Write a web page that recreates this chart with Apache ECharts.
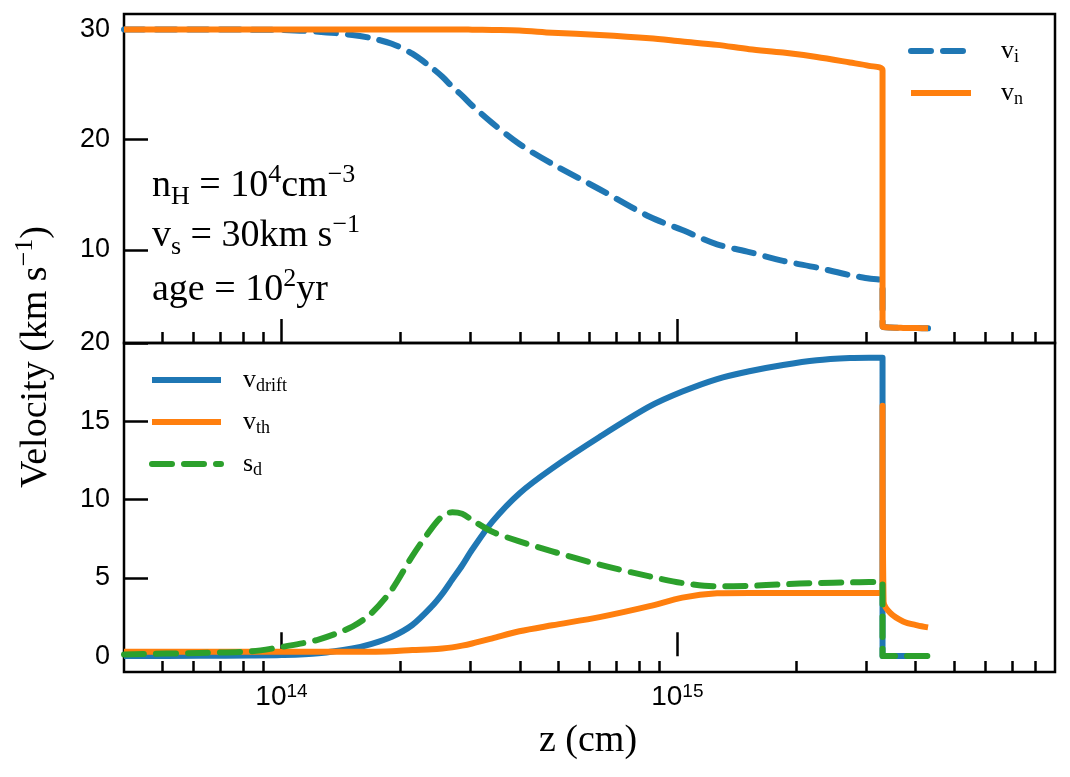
<!DOCTYPE html>
<html><head><meta charset="utf-8">
<script src="https://cdn.jsdelivr.net/npm/echarts@6/dist/echarts.min.js"></script>
<style>html,body{margin:0;padding:0;background:#fff}#c{width:1070px;height:777px}</style>
</head><body><div id="c"></div>
<script>
// shared z grid (cm); the repeated 3.3e15 marks the shock jump
const z = [4.0e13, 6.2e13, 8.4e13, 1.0e14, 1.24e14, 1.51e14, 1.69e14, 1.90e14, 2.14e14, 2.40e14,
           2.55e14, 2.70e14, 2.86e14, 3.03e14, 3.41e14, 3.99e14, 4.83e14, 6.36e14, 8.51e14, 1.03e15,
           1.26e15, 1.52e15, 1.85e15, 2.25e15, 2.73e15, 3.05e15, 3.3e15, 3.3e15, 3.32e15, 3.45e15,
           3.72e15, 4.04e15, 4.3e15];
// top panel
const vIon     = [30.0, 30.0, 29.98, 29.95, 29.8, 29.5, 29.2, 28.7, 27.8, 26.5,
                  25.7, 24.8, 24.0, 23.1, 21.5, 19.6, 17.8, 15.5, 13.0, 11.8,
                  10.5, 9.8, 9.0, 8.4, 7.7, 7.4, 7.1, 3.1, 3.0, 2.95,
                  2.92, 2.9, 2.88];
const vNeutral = [30.0, 30.0, 30.0, 30.0, 30.0, 30.0, 30.0, 30.0, 30.0, 30.0,
                  30.0, 30.0, 30.0, 29.98, 29.95, 29.9, 29.7, 29.5, 29.2, 28.9,
                  28.6, 28.2, 27.9, 27.5, 27.0, 26.7, 26.3, 3.1, 3.0, 2.95,
                  2.92, 2.9, 2.88];
// bottom panel
const vDrift = [0.02, 0.03, 0.05, 0.08, 0.2, 0.5, 0.8, 1.25, 2.0, 3.2,
                4.0, 4.9, 5.8, 6.8, 8.6, 10.4, 12.0, 14.0, 15.95, 16.9,
                17.7, 18.2, 18.6, 18.9, 19.04, 19.06, 19.06, 0.02, 0.02, 0.02,
                0.02, 0.02, 0.02];
const vTherm = [0.3, 0.3, 0.3, 0.3, 0.3, 0.3, 0.3, 0.33, 0.4, 0.45,
                0.5, 0.57, 0.68, 0.82, 1.15, 1.6, 1.98, 2.5, 3.2, 3.75,
                4.02, 4.05, 4.05, 4.05, 4.05, 4.05, 4.05, 16.0, 3.5, 2.77,
                2.23, 1.98, 1.85];
const sDrift = [0.12, 0.22, 0.32, 0.6, 1.07, 1.9, 2.77, 4.26, 6.4, 8.2,
                8.95, 9.2, 9.1, 8.7, 7.95, 7.34, 6.7, 5.85, 5.1, 4.68,
                4.47, 4.5, 4.6, 4.68, 4.72, 4.74, 4.75, 0.02, 0.02, 0.02,
                0.02, 0.02, 0.02];
// ticks
const xMajorTicks = [1e14, 1e15];
const xMinorTicks = [5e13, 6e13, 7e13, 8e13, 9e13, 2e14, 3e14, 4e14, 5e14, 6e14, 7e14, 8e14, 9e14,
                     2e15, 3e15, 4e15, 5e15, 6e15, 7e15, 8e15];
const yTopTicks = [10, 20, 30];
const yBottomTicks = [0, 5, 10, 15, 20];

const BLUE = '#1f77b4', ORANGE = '#ff7f0e', GREEN = '#2ca02c';
const SERIF = 'Liberation Serif', SANS = 'Liberation Sans';
const LW = 6;
const DASH = [20, 12];
const pairs = arr => z.map((v, i) => [v, arr[i]]);

const chart = echarts.init(document.getElementById('c'), null, {renderer: 'canvas'});
const tickStyle = {color: '#000', width: 2.5};
const xBase = {type: 'log', logBase: 10, min: 4e13, max: 9e15, position: 'bottom',
  axisLine: {show: false}, splitLine: {show: false}, minorTick: {show: false}};
const xMajor = gi => Object.assign({}, xBase, {gridIndex: gi,
  axisTick: {show: true, inside: true, length: 24, lineStyle: tickStyle, customValues: xMajorTicks},
  axisLabel: gi === 1 ? {
    customValues: xMajorTicks, margin: 10, color: '#000',
    formatter: v => '{b|10}{s|' + Math.round(Math.log10(v)) + '}',
    rich: {b: {fontFamily: SANS, fontSize: 28, lineHeight: 30, color: '#000'},
           s: {fontFamily: SANS, fontSize: 19, lineHeight: 14, verticalAlign: 'top', color: '#000'}}
  } : {show: false}});
const xMinor = gi => Object.assign({}, xBase, {gridIndex: gi,
  axisTick: {show: true, inside: true, length: 11, lineStyle: tickStyle, customValues: xMinorTicks},
  axisLabel: {show: false}});
const yAx = (gi, mn, mx, ticks) => ({type: 'value', gridIndex: gi, min: mn, max: mx,
  axisLine: {show: false}, splitLine: {show: false},
  axisTick: {show: true, inside: true, length: 24, lineStyle: tickStyle, customValues: ticks},
  axisLabel: {customValues: ticks, margin: 14, color: '#000', fontFamily: SANS, fontSize: 27}});

const legendRich = g => ({
  m: {fontFamily: SERIF, fontSize: 26, lineHeight: 30, color: '#000'},
  s: {fontFamily: SERIF, fontSize: 18, lineHeight: 18, verticalAlign: 'bottom', color: '#000'},
  g: {width: g}
});
const legendNames = {v_i: ['v', 'i'], v_n: ['v', 'n'], v_drift: ['v', 'drift'], v_th: ['v', 'th'], s_d: ['s', 'd']};
const legendFmt = n => '{g| }{m|' + legendNames[n][0] + '}{s|' + legendNames[n][1] + '}';
const legendItem = (name, color, dashed) => ({name,
  itemStyle: {color: 'transparent', borderColor: 'transparent', borderWidth: 0, opacity: 0},
  lineStyle: {color, width: LW, type: dashed ? DASH : 'solid', cap: dashed ? 'round' : 'butt', opacity: 1}});

const line = (name, data, color, xi, yi, dashed) => ({
  name, type: 'line', xAxisIndex: xi, yAxisIndex: yi, data: pairs(data), symbol: 'none',
  smooth: 0.3, animation: false,
  lineStyle: {color, width: LW, type: dashed ? DASH : 'solid', cap: dashed ? 'round' : 'butt', join: 'round'},
  itemStyle: {color}
});

const annRich = {
  m: {fontFamily: SERIF, fontSize: 38, lineHeight: 48, color: '#000'},
  sb: {fontFamily: SERIF, fontSize: 26, lineHeight: 30, verticalAlign: 'bottom', color: '#000'},
  sp: {fontFamily: SERIF, fontSize: 26, lineHeight: 40, verticalAlign: 'top', color: '#000'}
};
const annText = (txt, y) => ({type: 'text', x: 152, y, style: {text: txt, rich: annRich,
  font: '38px "Liberation Serif"', verticalAlign: 'middle', align: 'left', fill: '#000'}});

chart.setOption({
  animation: false,
  backgroundColor: '#fff',
  grid: [
    {left: 124, right: 15, top: 14, height: 329, show: true, borderColor: '#000', borderWidth: 2.5, backgroundColor: 'transparent'},
    {left: 124, right: 15, top: 343, height: 329, show: true, borderColor: '#000', borderWidth: 2.5, backgroundColor: 'transparent'}
  ],
  xAxis: [xMajor(0), xMajor(1), xMinor(0), xMinor(1)],
  yAxis: [yAx(0, 1.55, 31.4, yTopTicks), yAx(1, -1, 20, yBottomTicks)],
  legend: [
    {data: [legendItem('v_i', BLUE, true), legendItem('v_n', ORANGE, false)],
     orient: 'vertical', left: 908, top: 38, padding: 0, itemWidth: 60, itemHeight: 14, itemGap: 14,
     formatter: legendFmt, textStyle: {rich: legendRich(25)}, selectedMode: false},
    {data: [legendItem('v_drift', BLUE, false), legendItem('v_th', ORANGE, false), legendItem('s_d', GREEN, true)],
     orient: 'vertical', left: 149, top: 367, padding: 0, itemWidth: 69, itemHeight: 14, itemGap: 14,
     formatter: legendFmt, textStyle: {rich: legendRich(17)}, selectedMode: false}
  ],
  series: [
    line('v_i', vIon, BLUE, 0, 0, true),
    line('v_n', vNeutral, ORANGE, 0, 0, false),
    line('v_drift', vDrift, BLUE, 1, 1, false),
    line('v_th', vTherm, ORANGE, 1, 1, false),
    line('s_d', sDrift, GREEN, 1, 1, true)
  ],
  graphic: [
    {type: 'text', x: 36, y: 357, rotation: Math.PI / 2,
     style: {text: '{m|Velocity (km s}{sp|−1}{m|)}', rich: {
        m: {fontFamily: SERIF, fontSize: 38, lineHeight: 48, color: '#000'},
        sp: {fontFamily: SERIF, fontSize: 26, lineHeight: 40, verticalAlign: 'top', color: '#000'}},
       align: 'center', verticalAlign: 'middle', fill: '#000'}},
    {type: 'text', x: 588, y: 741,
     style: {text: 'z (cm)', font: '38px "Liberation Serif"', align: 'center', verticalAlign: 'middle', fill: '#000'}},
    annText('{m|n}{sb|H}{m| = 10}{sp|4}{m|cm}{sp|−3}', 186),
    annText('{m|v}{sb|s}{m| = 30km s}{sp|−1}', 236),
    annText('{m|age = 10}{sp|2}{m|yr}', 290)
  ]
});
</script></body></html>
